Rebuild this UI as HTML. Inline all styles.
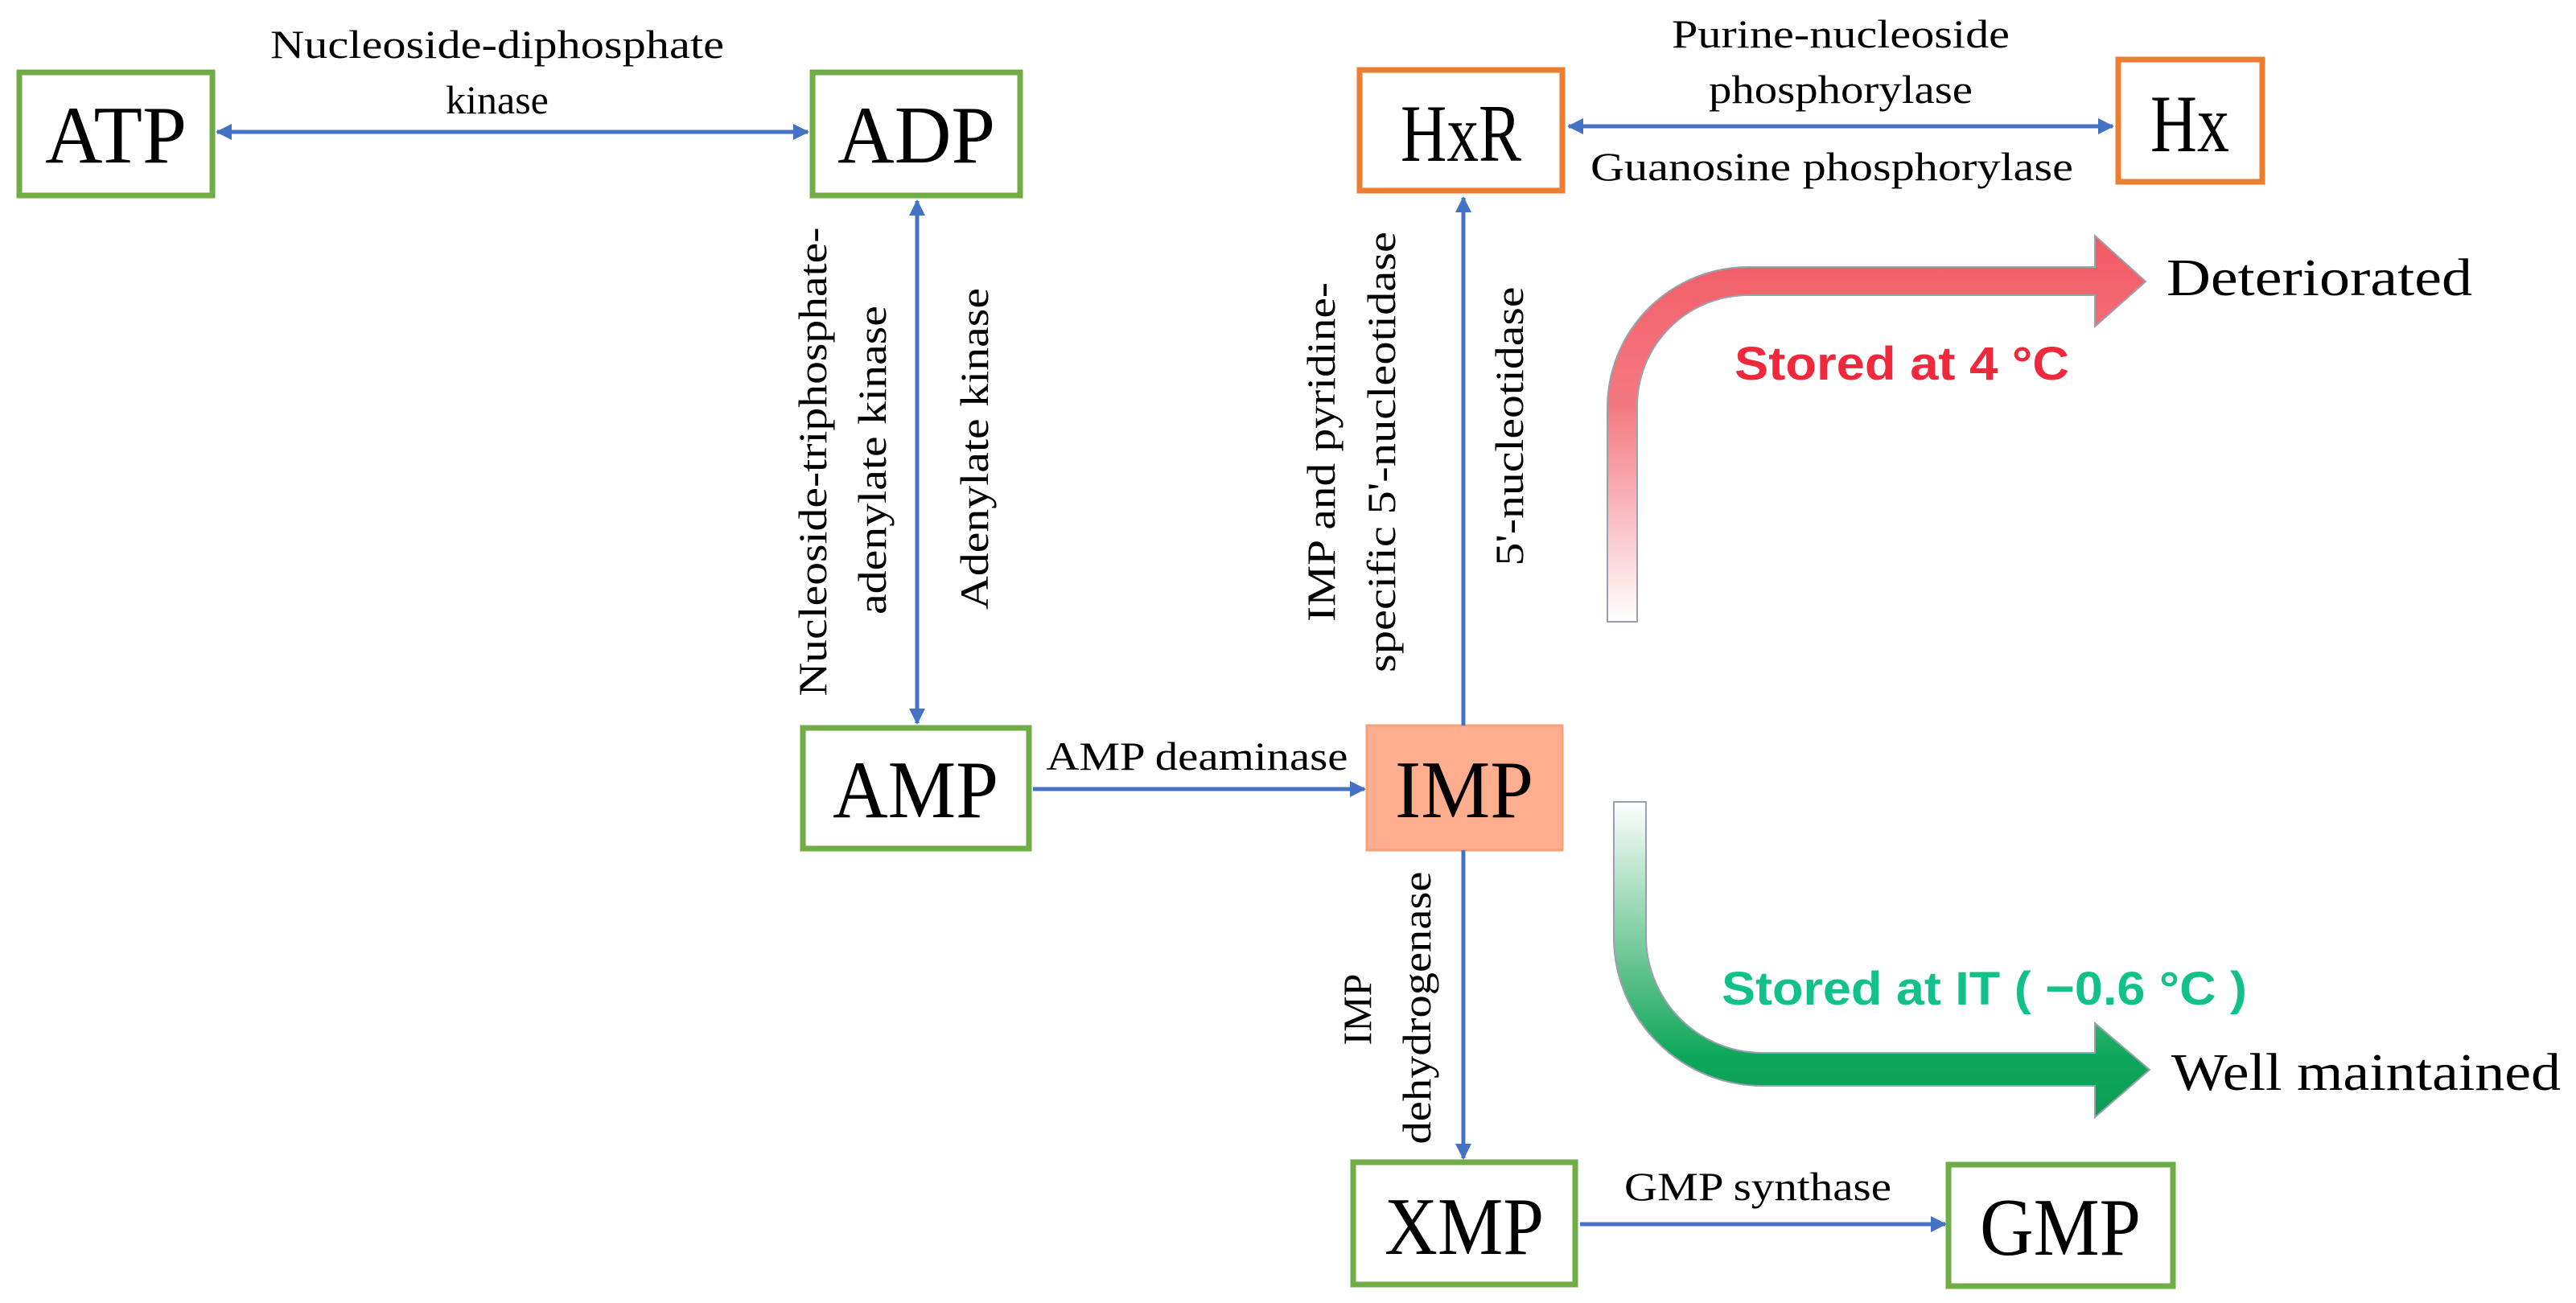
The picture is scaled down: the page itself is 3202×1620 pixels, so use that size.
<!DOCTYPE html>
<html><head><meta charset="utf-8"><style>html,body{margin:0;padding:0;background:#fff}svg{display:block}</style></head>
<body>
<svg width="3202" height="1620" viewBox="0 0 3202 1620" xmlns="http://www.w3.org/2000/svg" font-family="Liberation Serif, serif">
<defs>
<marker id="ah" viewBox="0 0 10 10" refX="9" refY="5" markerWidth="4" markerHeight="4" orient="auto-start-reverse" markerUnits="strokeWidth"><path d="M0,0 L10,5 L0,10 z" fill="#4472c4"/></marker>
<linearGradient id="rg" x1="0" y1="773" x2="0" y2="290" gradientUnits="userSpaceOnUse"><stop offset="0" stop-color="#ffffff"/><stop offset="0.55" stop-color="#f47a82"/><stop offset="1" stop-color="#f25a64"/></linearGradient>
<linearGradient id="gg" x1="0" y1="996" x2="0" y2="1390" gradientUnits="userSpaceOnUse"><stop offset="0" stop-color="#ffffff"/><stop offset="0.55" stop-color="#5cc08a"/><stop offset="0.8" stop-color="#0fa85a"/><stop offset="1" stop-color="#0a9d52"/></linearGradient>
</defs>
<g fill="none" stroke="#70ad47" stroke-width="7">
<rect x="24" y="90" width="240" height="153"/>
<rect x="1010" y="90" width="258" height="153"/>
<rect x="998" y="905" width="281" height="150"/>
<rect x="1682" y="1445" width="276" height="152"/>
<rect x="2422" y="1448" width="279" height="151"/>
</g>
<g fill="none" stroke="#ed7d31" stroke-width="7">
<rect x="1690" y="87" width="252" height="150"/>
<rect x="2633" y="74" width="179" height="152"/>
</g>
<rect x="1699" y="902" width="243" height="155" fill="#fcae8e" stroke="#f8a07c" stroke-width="3"/>
<g stroke="#4472c4" stroke-width="5" fill="none">
<line x1="270" y1="164" x2="1004" y2="164" marker-start="url(#ah)" marker-end="url(#ah)"/>
<line x1="1950" y1="157" x2="2626" y2="157" marker-start="url(#ah)" marker-end="url(#ah)"/>
<line x1="1140" y1="250" x2="1140" y2="899" marker-start="url(#ah)" marker-end="url(#ah)"/>
<line x1="1819" y1="902" x2="1819" y2="246" marker-end="url(#ah)"/>
<line x1="1284" y1="981" x2="1696" y2="981" marker-end="url(#ah)"/>
<line x1="1819" y1="1057" x2="1819" y2="1440" marker-end="url(#ah)"/>
<line x1="1964" y1="1522" x2="2418" y2="1522" marker-end="url(#ah)"/>
</g>
<path d="M1998,773 L1998,507 A175,175 0 0 1 2173,332 L2604,332 L2604,293 L2667,350 L2604,406 L2604,367 L2173,367 A138,138 0 0 0 2035,505 L2035,773 Z" fill="url(#rg)" stroke="#9aa0b0" stroke-width="2"/>
<path d="M2006,997 L2006,1165 A185,185 0 0 0 2191,1350 L2604,1350 L2604,1389 L2672,1330 L2604,1272 L2604,1309 L2191,1309 A145,145 0 0 1 2046,1164 L2046,997 Z" fill="url(#gg)" stroke="#9aa0b0" stroke-width="2"/>
<g font-size="102" fill="#000" text-anchor="middle">
<text x="144" y="202" textLength="176" lengthAdjust="spacingAndGlyphs">ATP</text>
<text x="1139" y="202" textLength="196" lengthAdjust="spacingAndGlyphs">ADP</text>
<text x="1816" y="200" textLength="150" lengthAdjust="spacingAndGlyphs">HxR</text>
<text x="2722" y="188" textLength="98" lengthAdjust="spacingAndGlyphs">Hx</text>
<text x="1138" y="1016" textLength="206" lengthAdjust="spacingAndGlyphs">AMP</text>
<text x="1820" y="1016" textLength="172" lengthAdjust="spacingAndGlyphs">IMP</text>
<text x="1820" y="1559" textLength="198" lengthAdjust="spacingAndGlyphs">XMP</text>
<text x="2561" y="1560" textLength="200" lengthAdjust="spacingAndGlyphs">GMP</text>
</g>
<g font-size="50" fill="#000" text-anchor="middle">
<text x="618" y="72" textLength="564" lengthAdjust="spacingAndGlyphs">Nucleoside-diphosphate</text>
<text x="618" y="141">kinase</text>
<text x="2288" y="59" textLength="420" lengthAdjust="spacingAndGlyphs">Purine-nucleoside</text>
<text x="2288" y="128" textLength="328" lengthAdjust="spacingAndGlyphs">phosphorylase</text>
<text x="2277" y="224" textLength="600" lengthAdjust="spacingAndGlyphs">Guanosine phosphorylase</text>
<text x="1488" y="957" textLength="375" lengthAdjust="spacingAndGlyphs">AMP deaminase</text>
<text x="2185" y="1492" textLength="332" lengthAdjust="spacingAndGlyphs">GMP synthase</text>
<text transform="translate(1027,574) rotate(-90)" textLength="583" lengthAdjust="spacingAndGlyphs">Nucleoside-triphosphate-</text>
<text transform="translate(1101,572) rotate(-90)" textLength="384" lengthAdjust="spacingAndGlyphs">adenylate  kinase</text>
<text transform="translate(1228,558) rotate(-90)" textLength="400" lengthAdjust="spacingAndGlyphs">Adenylate  kinase</text>
<text transform="translate(1659,562) rotate(-90)" textLength="422" lengthAdjust="spacingAndGlyphs">IMP  and  pyridine-</text>
<text transform="translate(1734,562) rotate(-90)" textLength="548" lengthAdjust="spacingAndGlyphs">specific  5'-nucleotidase</text>
<text transform="translate(1893,530) rotate(-90)" textLength="347" lengthAdjust="spacingAndGlyphs">5'-nucleotidase</text>
<text transform="translate(1704,1255) rotate(-90)">IMP</text>
<text transform="translate(1778,1253) rotate(-90)" textLength="339" lengthAdjust="spacingAndGlyphs">dehydrogenase</text>
</g>
<g font-size="66" fill="#000">
<text x="2693" y="367" textLength="380" lengthAdjust="spacingAndGlyphs">Deteriorated</text>
<text x="2699" y="1355" textLength="484" lengthAdjust="spacingAndGlyphs">Well maintained</text>
</g>
<g font-family="Liberation Sans, sans-serif" font-weight="bold" font-size="58">
<text x="2156" y="472" fill="#f0283c" textLength="416" lengthAdjust="spacingAndGlyphs">Stored at 4 °C</text>
<text x="2140" y="1249" fill="#12c08a" textLength="653" lengthAdjust="spacingAndGlyphs">Stored at IT ( −0.6 °C )</text>
</g>
</svg>
</body></html>
